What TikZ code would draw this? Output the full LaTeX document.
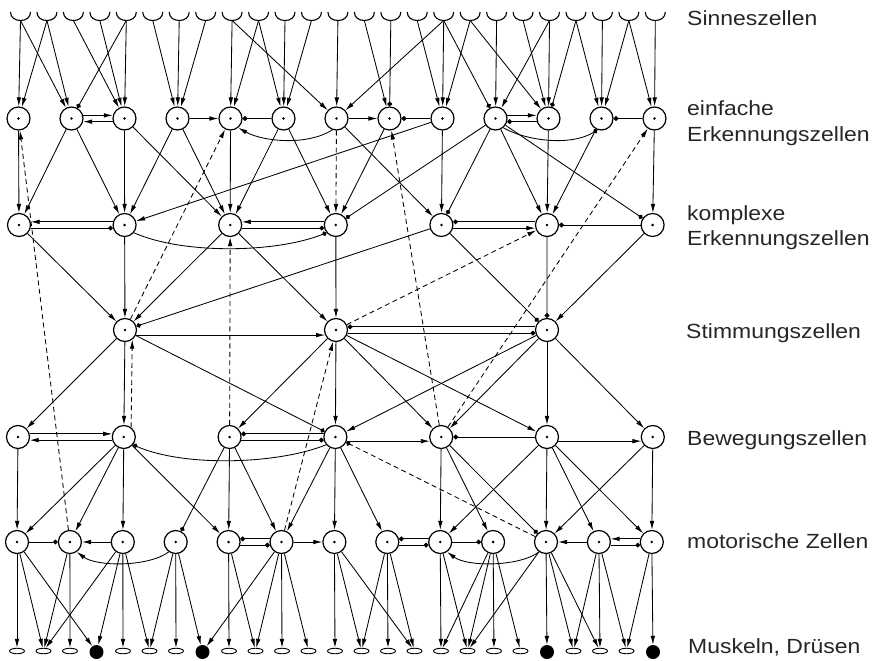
\documentclass[tikz,border=0pt]{standalone}
\usepackage{fontspec}
\setmainfont{Liberation Sans}[FakeStretch=1.12]
\usetikzlibrary{arrows.meta,shapes.geometric}

\begin{document}
\begin{tikzpicture}[x=1pt,y=-1pt,
  cell/.style={circle,draw,line width=1.2pt,minimum size=23pt,inner sep=0pt,
    path picture={\fill (path picture bounding box.center) circle[radius=1.4pt];}},
  gland/.style={ellipse,draw,line width=0.9pt,minimum width=15pt,minimum height=5.5pt,inner sep=0pt},
  muscle/.style={circle,fill,minimum size=14pt,inner sep=0pt},
  syn/.style={line width=0.85pt},
  ex/.style={syn,-{Latex[length=9pt,width=4.6pt]}},
  hem/.style={syn,-{Circle[length=4.8pt]}},
  fb/.style={ex,dash pattern=on 5pt off 3.5pt},
  fbh/.style={hem,dash pattern=on 5pt off 3.5pt},
  lab/.style={anchor=base west,inner sep=0pt,text=black!85,font=\fontsize{20.5}{24}\selectfont}
]
\useasboundingbox (0,0) rectangle (878,661);

% sensory cells (cups) with their stem coordinates
\foreach \i in {0,...,24} {
  \pgfmathsetmacro\sx{20.5+26.45*\i}
  \draw[line width=1.1pt] (\sx-10,12) .. controls (\sx-10,17.5) and (\sx-5.5,20.5) .. (\sx,20.5)
        .. controls (\sx+5.5,20.5) and (\sx+10,17.5) .. (\sx+10,12);
  \coordinate (S\i) at (\sx,20.5);
}

% simple recognition cells
\foreach \j in {0,...,12} {
  \pgfmathsetmacro\ax{18.5+53*\j}
  \node[cell] (A\j) at (\ax,118.5) {};
}
% complex recognition cells
\foreach \k in {0,...,6} {
  \pgfmathsetmacro\bx{19+105.6*\k}
  \node[cell] (B\k) at (\bx,225) {};
}
% mood cells
\node[cell] (C0) at (125,330) {};
\node[cell] (C1) at (336,330) {};
\node[cell] (C2) at (547,330) {};
% movement cells
\foreach \k in {0,...,6} {
  \pgfmathsetmacro\dx{18+105.8*\k}
  \node[cell] (D\k) at (\dx,437) {};
}
% motor cells
\foreach \j in {0,...,12} {
  \pgfmathsetmacro\ex{17+52.9*\j}
  \node[cell] (E\j) at (\ex,542) {};
}
% glands and muscles
\foreach \i in {0,1,2,4,5,6,8,9,10,11,12,13,14,15,16,17,18,19,21,22,23} {
  \pgfmathsetmacro\mx{17+26.5*\i}
  \node[gland] (M\i) at (\mx,651) {};
}
\foreach \i in {3,7,20,24} {
  \pgfmathsetmacro\mx{17+26.5*\i}
  \node[muscle] (M\i) at (\mx,652) {};
}

% sensory -> simple
\foreach \a/\b in {S0/A0,S0/A1,S1/A0,S1/A1,S2/A2,S3/A2,S4/A2,S5/A3,S6/A3,S7/A3,
  S8/A4,S8/A6,S9/A4,S9/A5,S10/A5,S11/A5,S12/A6,S13/A7,S15/A8,S16/A6,S16/A8,
  S17/A8,S17/A10,S18/A9,S19/A10,S20/A10,S20/A9,S21/A11,S22/A11,S23/A11,S23/A12,S24/A12}
  \draw[ex] (\a) -- (\b);
\foreach \a/\b in {S4/A1,S14/A7,S16/A9,S21/A10}
  \draw[hem] (\a) -- (\b);

% simple row
\draw[ex] (A1.15) -- (A2.165);
\draw[ex] (A2.195) -- (A1.-15);
\draw[ex] (A3) -- (A4);
\draw[hem] (A5) -- (A4);
\draw[ex] (A6.250) .. controls +(-25,16) and +(25,14) .. (A4.-50);
\draw[ex] (A6) -- (A7);
\draw[hem] (A8) -- (A7);
\draw[ex] (A9.15) -- (A10.165);
\draw[hem] (A10.195) -- (A9.-15);
\draw[hem] (A9.-50) .. controls +(25,14) and +(-25,16) .. (A11.250);
\draw[hem] (A12) -- (A11);

% simple -> complex
\foreach \a/\b in {A0/B0,A1/B0,A1/B1,A2/B1,A2/B2,A3/B1,A3/B2,A4/B2,A5/B2,A5/B3,
  A7/B3,A6/B4,A8/B4,A8/B1,A9/B5,A10/B5,A11/B5,A12/B6}
  \draw[ex] (\a) -- (\b);
\foreach \a/\b in {A9/B3,A9/B4,A9/B6}
  \draw[hem] (\a) -- (\b);

% complex row
\draw[ex] (B1.165) -- (B0.15);
\draw[hem] (B0.-15) -- (B1.195);
\draw[hem] (B1.-40) .. controls +(50,22) and +(-50,20) .. (B3.220);
\draw[ex] (B3.165) -- (B2.15);
\draw[hem] (B2.-15) -- (B3.195);
\draw[hem] (B5.165) -- (B4.15);
\draw[ex] (B4.-15) -- (B5.195);
\draw[hem] (B6) -- (B5);

% complex -> mood
\foreach \a/\b in {B0/C0,B1/C0,B2/C0,B2/C1,B3/C1,B6/C2}
  \draw[ex] (\a) -- (\b);
\foreach \a/\b in {B4/C2,B5/C2,B4/C0}
  \draw[hem] (\a) -- (\b);

% mood row
\draw[ex] (C0.-25) -- (C1.205);
\draw[hem] (C2.165) -- (C1.15);
\draw[hem] (C1.-15) -- (C2.195);

% mood -> movement
\foreach \a/\b in {C0/D0,C0/D1,C1/D2,C1/D3,C1/D4,C1/D5,C2/D3,C2/D4,C2/D5,C2/D6}
  \draw[ex] (\a) -- (\b);
\draw[hem] (C0) -- (D3);

% movement row
\draw[ex] (D0.15) -- (D1.165);
\draw[ex] (D1.195) -- (D0.-15);
\draw[hem] (D3.220) .. controls +(-50,20) and +(50,22) .. (D1.-40);
\draw[hem] (D3.165) -- (D2.15);
\draw[hem] (D2.-15) -- (D3.195);
\draw[ex] (D3.-20) -- (D4.200);
\draw[hem] (D5) -- (D4);
\draw[ex] (D5.-20) -- (D6.200);

% movement -> motor
\foreach \a/\b in {D0/E0,D1/E0,D1/E1,D1/E2,D1/E4,D2/E4,D2/E5,D3/E5,D3/E6,D3/E7,
  D4/E8,D4/E9,D5/E8,D5/E10,D5/E11,D5/E12,D6/E10,D6/E12}
  \draw[ex] (\a) -- (\b);
\foreach \a/\b in {D2/E3,D4/E10}
  \draw[hem] (\a) -- (\b);

% motor row
\draw[hem] (E0) -- (E1);
\draw[ex] (E2) -- (E1);
\draw[ex] (E3.235) .. controls +(-20,15) and +(20,15) .. (E1.-55);
\draw[hem] (E5.165) -- (E4.15);
\draw[hem] (E4.-15) -- (E5.195);
\draw[ex] (E5) -- (E6);
\draw[hem] (E8.165) -- (E7.15);
\draw[hem] (E7.-15) -- (E8.195);
\draw[hem] (E8) -- (E9);
\draw[ex] (E10.235) .. controls +(-20,15) and +(20,15) .. (E8.-55);
\draw[ex] (E11) -- (E10);
\draw[ex] (E12.165) -- (E11.15);
\draw[hem] (E11.-15) -- (E12.195);

% motor -> muscles and glands
\foreach \a/\b in {E0/M0,E0/M1,E0/M3,E1/M1,E1/M2,E2/M1,E2/M3,E2/M4,E2/M5,
  E3/M5,E3/M6,E3/M7,E4/M8,E4/M9,E5/M7,E5/M9,E5/M10,E5/M11,
  E6/M12,E6/M13,E6/M15,E7/M13,E7/M14,E7/M15,E8/M16,E8/M17,
  E9/M16,E9/M17,E9/M18,E9/M19,E10/M17,E10/M20,E10/M21,E10/M22,
  E11/M21,E11/M22,E11/M23,E12/M23,E12/M24}
  \draw[ex] (\a) -- (\b);

% feedback connections (dashed)
\foreach \a/\b in {E1/A0,C0/A4,D4/A7,D4/A12,C1/B5,D2/B2,E5/C1,A6/B3}
  \draw[fb] (\a) -- (\b);
\draw[fb] (D1.53) -- (C0.-53);
\draw[fbh] (E10) -- (D3);

% level labels
\node[lab] (t1) at (687,26) {Sinneszellen};
\node[lab] (t2) at (687,115.5) {einfache};
\node[lab] (t3) at (687,141.5) {Erkennungszellen};
\node[lab] (t4) at (687,220.5) {komplexe};
\node[lab] (t5) at (687,245) {Erkennungszellen};
\node[lab] (t6) at (686,338) {Stimmungszellen};
\node[lab] (t7) at (687,445) {Bewegungszellen};
\node[lab] (t8) at (687,548) {motorische Zellen};
\node[lab] (t9) at (688,653) {Muskeln, Drüsen};
\end{tikzpicture}
\end{document}
